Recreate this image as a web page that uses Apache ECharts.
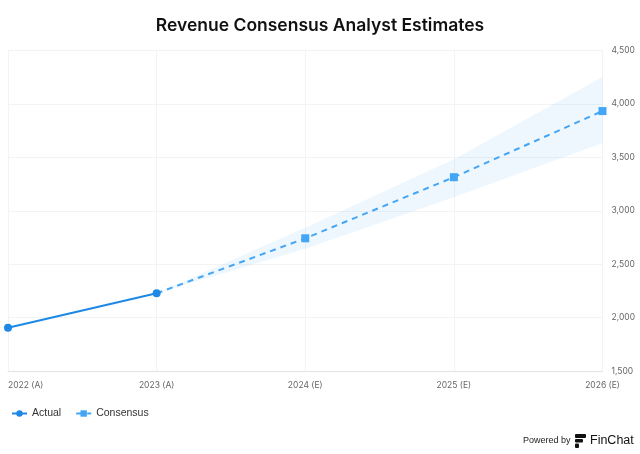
<!DOCTYPE html>
<html>
<head>
<meta charset="utf-8">
<script src="https://cdn.jsdelivr.net/npm/echarts@6/dist/echarts.min.js"></script>
<style>
html,body{margin:0;padding:0;background:#fff;}
#chart{width:640px;height:454px;}
</style>
</head>
<body>
<div id="chart"></div>
<script>
var categories = ['2022 (A)', '2023 (A)', '2024 (E)', '2025 (E)', '2026 (E)'];
var actual = [1905, 2227, '-', '-', '-'];
var consensus = ['-', 2227, 2742, 3314, 3933];
var bandLow = ['-', 2227, 2645, 3127, 3633];
var bandHigh = ['-', 2227, 2840, 3483, 4252];
var yTicks = [1500, 2000, 2500, 3000, 3500, 4000, 4500];

var bandDiff = bandHigh.map(function (v, i) {
  return v === '-' ? '-' : v - bandLow[i];
});
// hide the consensus marker where it joins the actual line
var consensusData = consensus.map(function (v, i) {
  return (v !== '-' && actual[i] !== '-') ? { value: v, symbol: 'none' } : v;
});

var chart = echarts.init(document.getElementById('chart'));
chart.setOption({
  animation: false,
  backgroundColor: '#ffffff',
  title: {
    text: 'Revenue Consensus Analyst Estimates',
    left: 'center',
    top: 12,
    textStyle: { fontFamily: 'Inter', fontSize: 17.5, fontWeight: 600, color: '#111' }
  },
  legend: {
    data: ['Actual', 'Consensus'],
    left: 6,
    top: 403,
    itemWidth: 15,
    itemHeight: 8,
    itemGap: 14,
    textStyle: { fontFamily: 'Liberation Sans', fontSize: 10.5, color: '#333' }
  },
  grid: { left: 8, right: 37.5, top: 50.5, bottom: 83 },
  xAxis: {
    type: 'category',
    data: categories,
    boundaryGap: false,
    axisLine: { lineStyle: { color: '#e3e3e3', width: 1 } },
    axisTick: { show: false },
    axisLabel: {
      fontFamily: 'Inter', fontSize: 8.5, color: '#666', margin: 10,
      alignMinLabel: 'left'
    },
    splitLine: { show: true, lineStyle: { color: '#f3f3f3' } }
  },
  yAxis: {
    type: 'value',
    position: 'right',
    min: yTicks[0],
    max: yTicks[yTicks.length - 1],
    interval: 500,
    axisLine: { show: false },
    axisTick: { show: false },
    axisLabel: {
      fontFamily: 'Inter', fontSize: 8.5, color: '#666', margin: 9,
      formatter: function (v) { return v.toLocaleString('en-US'); }
    },
    splitLine: { show: true, lineStyle: { color: '#f3f3f3' } }
  },
  series: [
    {
      name: 'bandLow', type: 'line', data: bandLow, stack: 'band',
      symbol: 'none', lineStyle: { opacity: 0 }, silent: true, z: 1
    },
    {
      name: 'bandRange', type: 'line', data: bandDiff, stack: 'band',
      symbol: 'none', lineStyle: { opacity: 0 },
      areaStyle: { color: 'rgba(66,165,245,0.13)' }, silent: true, z: 1
    },
    {
      name: 'Consensus', type: 'line', data: consensusData,
      symbol: 'rect', symbolSize: 8,
      itemStyle: { color: '#42A5F5' },
      lineStyle: { color: '#42A5F5', width: 2, type: [6, 5] },
      z: 3
    },
    {
      name: 'Actual', type: 'line', data: actual,
      symbol: 'circle', symbolSize: 8,
      itemStyle: { color: '#1E88E5' },
      lineStyle: { color: '#1E88E5', width: 2 },
      z: 4
    }
  ],
  graphic: [
    {
      type: 'text', left: 523, top: 436,
      style: { text: 'Powered by', fontFamily: 'Liberation Sans', fontSize: 9, fill: '#222' }
    },
    {
      type: 'group', left: 575, top: 434,
      children: [
        { type: 'rect', shape: { x: 0, y: 0, width: 11, height: 4, r: 1 }, style: { fill: '#111' } },
        { type: 'rect', shape: { x: 0, y: 5, width: 8, height: 3.5, r: 1 }, style: { fill: '#111' } },
        { type: 'rect', shape: { x: 0, y: 9.5, width: 4, height: 4.5, r: 1 }, style: { fill: '#111' } }
      ]
    },
    {
      type: 'text', left: 590, top: 434,
      style: { text: 'FinChat', fontFamily: 'Liberation Sans', fontSize: 12.5, fill: '#111' }
    }
  ]
});
</script>
</body>
</html>
